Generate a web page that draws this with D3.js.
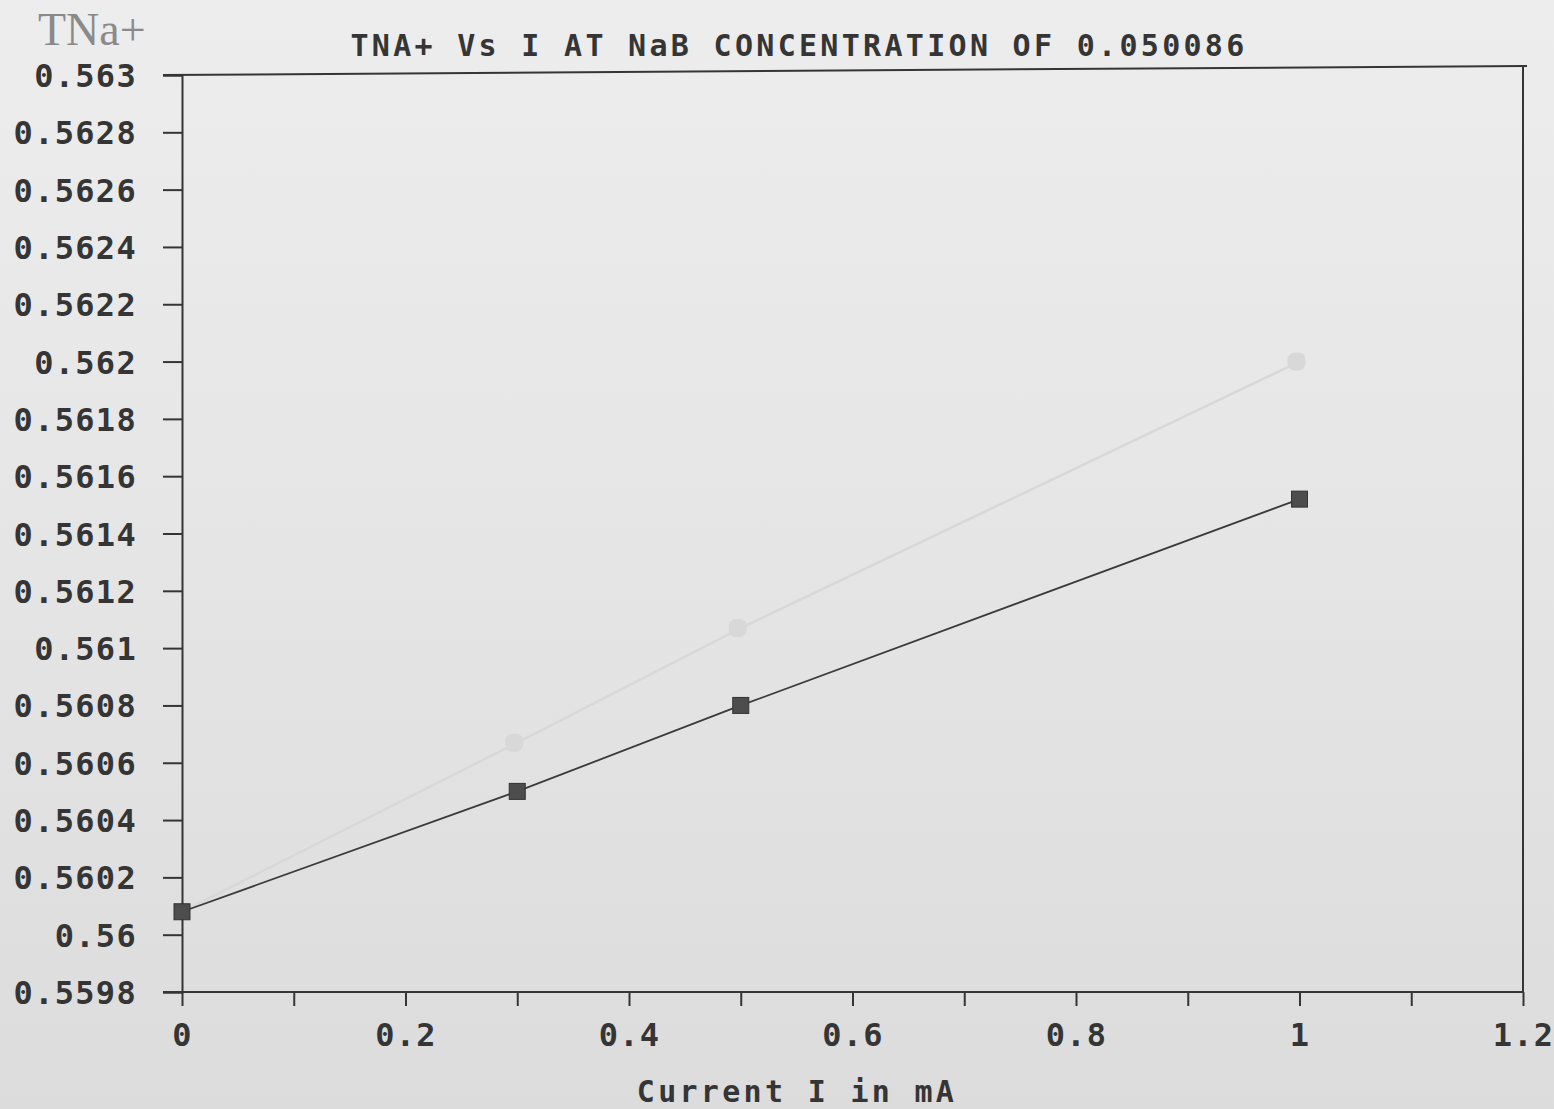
<!DOCTYPE html>
<html>
<head>
<meta charset="utf-8">
<script src="https://cdn.jsdelivr.net/npm/d3@7"></script>
<style>
  html, body { margin: 0; padding: 0; background: #e2e2e2; }
  svg { display: block; }
  .mono { font-family: "DejaVu Sans Mono", "Liberation Mono", monospace; font-weight: bold; fill: #353535; }
</style>
</head>
<body>
<svg id="chart" width="1554" height="1109"></svg>
<script>
// Current I (mA) and measured transport number of Na+
const currentI = [0, 0.3, 0.5, 1.0];
const tNa = [0.56008, 0.5605, 0.5608, 0.56152];

// Faint trace of the companion run printed with the same axes
const faintI = [0, 0.3, 0.5, 1.0];
const faintTNa = [0.56008, 0.56067, 0.56107, 0.562];

const xTicks = [0, 0.1, 0.2, 0.3, 0.4, 0.5, 0.6, 0.7, 0.8, 0.9, 1.0, 1.1, 1.2];
const xTickLabels = ["0", "", "0.2", "", "0.4", "", "0.6", "", "0.8", "", "1", "", "1.2"];
const yTicks = [0.5598, 0.56, 0.5602, 0.5604, 0.5606, 0.5608, 0.561, 0.5612, 0.5614,
                0.5616, 0.5618, 0.562, 0.5622, 0.5624, 0.5626, 0.5628, 0.563];
const yTickLabels = ["0.5598", "0.56", "0.5602", "0.5604", "0.5606", "0.5608", "0.561", "0.5612",
                     "0.5614", "0.5616", "0.5618", "0.562", "0.5622", "0.5624", "0.5626", "0.5628", "0.563"];

const titleText = "TNA+ Vs I AT NaB CONCENTRATION OF 0.050086";
const xTitle = "Current I in mA";
const yTitle = "TNa+";

const svg = d3.select("#chart");
const W = 1554, H = 1109;
const m = { left: 182, right: 31, top: 75, bottom: 117 };

// paper-like background
const defs = svg.append("defs");
const grad = defs.append("linearGradient").attr("id", "paper")
  .attr("x1", 0).attr("y1", 0).attr("x2", 0).attr("y2", 1);
grad.append("stop").attr("offset", "0%").attr("stop-color", "#ededed");
grad.append("stop").attr("offset", "45%").attr("stop-color", "#e6e6e6");
grad.append("stop").attr("offset", "100%").attr("stop-color", "#dcdcdc");
svg.append("rect").attr("width", W).attr("height", H).attr("fill", "url(#paper)");

const x = d3.scaleLinear().domain([0, 1.2]).range([m.left, W - m.right]);
const y = d3.scaleLinear().domain([0.5598, 0.563]).range([H - m.bottom, m.top]);

const ink = "#353535";

// frame: top and right borders
svg.append("line")
  .attr("x1", m.left - 19).attr("y1", y(0.563))
  .attr("x2", x(1.2) + 4).attr("y2", y(0.563) - 9)
  .attr("stroke", ink).attr("stroke-width", 2);
svg.append("line")
  .attr("x1", x(1.2)).attr("y1", y(0.563) - 9)
  .attr("x2", x(1.2)).attr("y2", y(0.5598))
  .attr("stroke", ink).attr("stroke-width", 2);

// y axis
const yAxis = d3.axisLeft(y).tickValues(yTicks).tickSize(19).tickPadding(26)
  .tickFormat((d, i) => yTickLabels[i]);
const gy = svg.append("g").attr("transform", `translate(${m.left},0)`).call(yAxis);
gy.select(".domain").attr("stroke", ink).attr("stroke-width", 2);
gy.selectAll(".tick line").attr("stroke", ink).attr("stroke-width", 2);
gy.selectAll(".tick text").attr("class", "mono")
  .style("font-size", "32px").style("letter-spacing", "1.3px")
  .attr("dy", "0.36em");

// x axis
const xAxis = d3.axisBottom(x).tickValues(xTicks).tickSize(14).tickPadding(17)
  .tickFormat((d, i) => xTickLabels[i]);
const gx = svg.append("g").attr("transform", `translate(0,${y(0.5598)})`).call(xAxis);
gx.select(".domain").attr("stroke", ink).attr("stroke-width", 2)
  .attr("d", `M${m.left - 19},0H${x(1.2)}`);
gx.selectAll(".tick line").attr("stroke", ink).attr("stroke-width", 2);
gx.selectAll(".tick text").attr("class", "mono")
  .style("font-size", "32px").style("letter-spacing", "1.3px")
  .attr("dy", "0.71em");

// faint companion trace
const faint = faintI.map((v, i) => [v, faintTNa[i]]);
const line = d3.line().x(d => x(d[0])).y(d => y(d[1]));
svg.append("path").datum(faint).attr("d", line)
  .attr("fill", "none").attr("stroke", "#d8d8d8").attr("stroke-width", 2.5);
svg.append("g").selectAll("rect").data(faint.slice(1)).join("rect")
  .attr("x", d => x(d[0]) - 12).attr("y", d => y(d[1]) - 9)
  .attr("width", 18).attr("height", 18).attr("rx", 7)
  .attr("fill", "#d8d8d8");

// main series
const pts = currentI.map((v, i) => [v, tNa[i]]);
svg.append("path").datum(pts).attr("d", line)
  .attr("fill", "none").attr("stroke", "#3a3a3a").attr("stroke-width", 1.8);
svg.append("g").selectAll("rect").data(pts).join("rect")
  .attr("x", d => x(d[0]) - 8).attr("y", d => y(d[1]) - 8)
  .attr("width", 16).attr("height", 16)
  .attr("fill", "#4d4d4d").attr("stroke", "#333").attr("stroke-width", 1);

// titles
svg.append("text").attr("class", "mono")
  .attr("x", 799).attr("y", 56).attr("text-anchor", "middle")
  .style("font-size", "30px").style("letter-spacing", "3.3px")
  .text(titleText);

svg.append("text").attr("class", "mono")
  .attr("x", 797).attr("y", 1102).attr("text-anchor", "middle")
  .style("font-size", "30px").style("letter-spacing", "3.3px")
  .text(xTitle);

svg.append("text")
  .attr("x", 38).attr("y", 45)
  .style("font-family", "'Liberation Serif', 'DejaVu Serif', serif")
  .style("font-size", "46px").style("fill", "#8a8a8a")
  .text(yTitle);
</script>
</body>
</html>
